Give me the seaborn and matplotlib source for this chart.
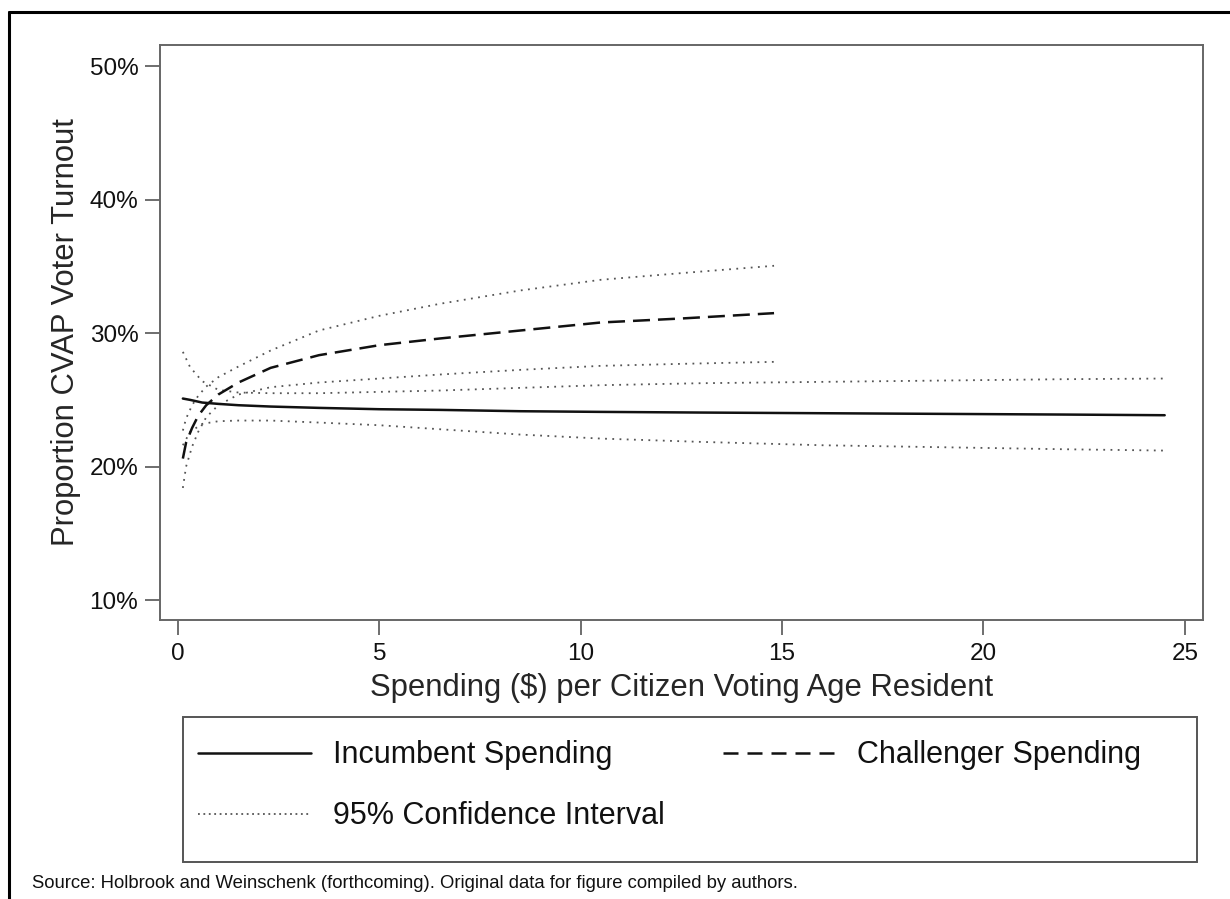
import numpy as np
import pandas as pd
import matplotlib
matplotlib.use("Agg")
import matplotlib.pyplot as plt
from matplotlib.lines import Line2D
from matplotlib.patches import Rectangle
from matplotlib.ticker import FuncFormatter
import seaborn as sns

# Incumbent spending curve and its 95% CI (in %)
inc_x = [0.12, 0.3, 0.6, 1.0, 1.5, 2.3, 3.5, 5, 6.5, 8.5, 10.5, 13, 16, 19, 22, 24.5]
inc_mean = [25.1, 25.0, 24.8, 24.7, 24.6, 24.5, 24.4, 24.3, 24.25, 24.15, 24.1, 24.05, 24.0, 23.95, 23.9, 23.85]
inc_upper = [28.6, 27.45, 26.4, 25.75, 25.55, 25.5, 25.5, 25.6, 25.7, 25.9, 26.1, 26.25, 26.35, 26.45, 26.55, 26.6]
inc_lower = [21.6, 22.6, 23.2, 23.4, 23.45, 23.45, 23.3, 23.1, 22.8, 22.4, 22.1, 21.85, 21.6, 21.45, 21.3, 21.2]

# Challenger spending curve and its 95% CI
ch_x = [0.12, 0.2, 0.35, 0.5, 0.7, 1.0, 1.5, 2.3, 3.5, 5, 6.5, 8.5, 10.5, 12.5, 14.8]
ch_mean = [20.6, 21.8, 22.9, 23.8, 24.6, 25.4, 26.3, 27.4, 28.35, 29.1, 29.6, 30.2, 30.8, 31.1, 31.5]
ch_upper = [22.7, 23.6, 24.6, 25.3, 26.0, 26.7, 27.5, 28.7, 30.2, 31.3, 32.2, 33.2, 34.0, 34.5, 35.05]
ch_lower = [18.4, 20.0, 21.5, 22.6, 23.7, 24.6, 25.4, 25.95, 26.3, 26.6, 26.9, 27.25, 27.55, 27.7, 27.85]

labels = ["Incumbent Spending", "Challenger Spending", "95% Confidence Interval"]
source = "Source: Holbrook and Weinschenk (forthcoming). Original data for figure compiled by authors."

sns.set_theme(style="white")
plt.rcParams['font.family'] = ['Liberation Sans', 'DejaVu Sans']
plt.rcParams['text.color'] = '#111111'

fig = plt.figure(figsize=(12.3, 8.99), dpi=100)
ax = fig.add_axes([0.130, 0.3103, 0.848, 0.6397])

dot_style = dict(color='#555555', linewidth=1.3, linestyle=(0, (1, 3)))
for ys in [inc_upper, inc_lower]:
    sns.lineplot(x=inc_x, y=ys, ax=ax, **dot_style)
for ys in [ch_upper, ch_lower]:
    sns.lineplot(x=ch_x, y=ys, ax=ax, **dot_style)
sns.lineplot(x=inc_x, y=inc_mean, ax=ax, color='#111111', linewidth=1.8)
sns.lineplot(x=ch_x, y=ch_mean, ax=ax, color='#111111', linewidth=1.8,
             linestyle=(0, (6.8, 3.2)))

ax.set_xlim(-0.45, 25.45)
ax.set_ylim(8.5, 51.6)
ax.set_xticks([0, 5, 10, 15, 20, 25])
ax.set_yticks([10, 20, 30, 40, 50])
ax.yaxis.set_major_formatter(FuncFormatter(lambda v, p: f"{v:.0f}%"))
ax.tick_params(direction='out', length=10.5, width=1.2, color='#555555',
               labelsize=17.5, labelcolor='#111111', left=True, bottom=True)
ax.tick_params(axis='x', pad=6)
ax.tick_params(axis='y', pad=5)
for s in ax.spines.values():
    s.set_color('#666666')
    s.set_linewidth(1.4)
ax.set_xlabel("Spending ($) per Citizen Voting Age Resident", fontsize=22.3, labelpad=6)
ax.set_ylabel("Proportion CVAP Voter Turnout", fontsize=22.3, labelpad=6)

# legend box below the plot
fig.add_artist(Rectangle((183 / 1230, 1 - 862 / 899), (1197 - 183) / 1230, (862 - 717) / 899,
                         transform=fig.transFigure, fill=False, edgecolor='#555555', linewidth=1.4))
handles = [Line2D([], [], color='#111111', linewidth=1.8),
           Line2D([], [], color='#555555', linewidth=1.3, linestyle=(0, (1, 2))),
           Line2D([], [], color='#111111', linewidth=1.8, linestyle=(0, (6.0, 3.6)))]
fig.legend(handles, [labels[0], labels[2], labels[1]], ncol=2, frameon=False,
           loc='upper left', bbox_to_anchor=(183 / 1230, 1 - 725 / 899), borderpad=0,
           fontsize=22, handlelength=3.7, handletextpad=0.7, labelspacing=1.02,
           columnspacing=1.9)

# outer frame (left and top edges)
fig.add_artist(Line2D([9 / 1230, 9 / 1230], [0, 1 - 12 / 899], transform=fig.transFigure,
                      color='black', linewidth=2.2))
fig.add_artist(Line2D([9 / 1230, 1], [1 - 12 / 899, 1 - 12 / 899], transform=fig.transFigure,
                      color='black', linewidth=2.2))

fig.text(32 / 1230, 1 - 884 / 899, source, fontsize=13.35, va='center', ha='left',
         family=['Liberation Sans', 'DejaVu Sans'])

fig.savefig("out.png", dpi=100, facecolor='white')
